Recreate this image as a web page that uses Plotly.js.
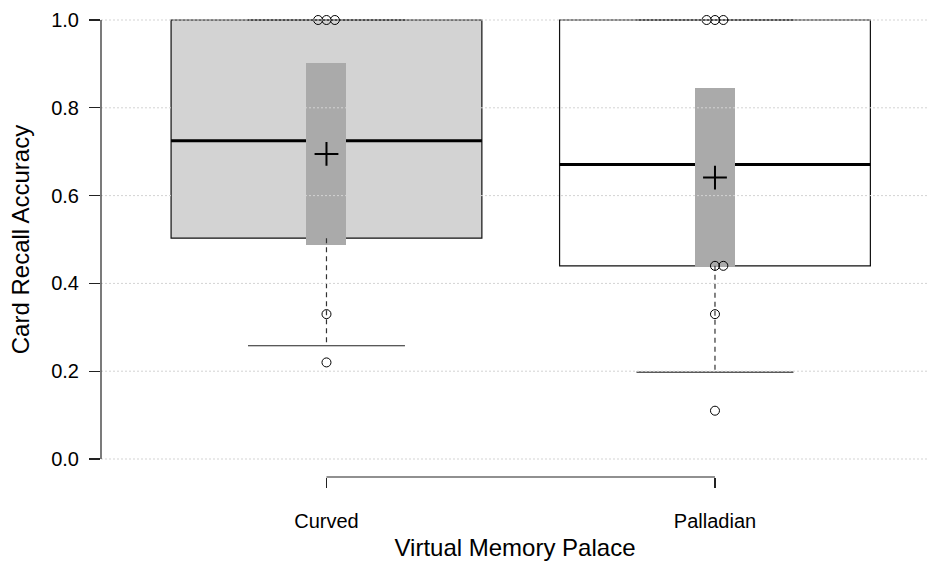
<!DOCTYPE html>
<html>
<head>
<meta charset="utf-8">
<script src="https://cdn.plot.ly/plotly-3.0.1.min.js"></script>
<style>html,body{margin:0;padding:0;background:#fff;}#chart{width:929px;height:561px;}</style>
</head>
<body>
<div id="chart"></div>
<script>
// ---- data ----
const categories = ['Curved', 'Palladian'];
const q1 = [0.503, 0.440];
const medians = [0.725, 0.671];
const q3 = [1.0, 1.0];
const lowerWhisker = [0.258, 0.198];
const upperWhisker = [1.0, 1.0];
const means = [0.695, 0.641];
const ciLow = [0.487, 0.437];
const ciHigh = [0.903, 0.846];
const curvedPoints = [1.0, 1.0, 1.0, 0.33, 0.22];
const palladianPoints = [1.0, 1.0, 1.0, 0.44, 0.44, 0.33, 0.11];
const yTicks = [0, 0.2, 0.4, 0.6, 0.8, 1.0];

// ---- styling ----
const boxFills = ['#d3d3d3', '#ffffff'];
const FONT = 'Liberation Sans, Arial, Helvetica, sans-serif';
const xPos = categories.map((c, i) => i);
const boxHalf = 0.40, capHalf = 0.202, ciWidth = 0.103, stackStep = 0.0215;

const shapes = [];
// boxes and medians (below traces)
xPos.forEach((x, i) => {
  shapes.push({type: 'rect', layer: 'below', xref: 'x', yref: 'y',
    x0: x - boxHalf, x1: x + boxHalf, y0: q1[i], y1: q3[i],
    fillcolor: boxFills[i], line: {color: '#111', width: 1.2}});
  shapes.push({type: 'line', layer: 'below', xref: 'x', yref: 'y',
    x0: x - boxHalf, x1: x + boxHalf, y0: medians[i], y1: medians[i],
    line: {color: '#000', width: 3}});
});
// whisker caps
xPos.forEach((x, i) => {
  [lowerWhisker[i], upperWhisker[i]].forEach(v => {
    shapes.push({type: 'line', layer: 'below', xref: 'x', yref: 'y',
      x0: x - capHalf, x1: x + capHalf, y0: v, y1: v,
      line: {color: '#222', width: 1.2}});
  });
});
// gridlines drawn on top
yTicks.forEach(v => {
  shapes.push({type: 'line', layer: 'above', xref: 'paper', yref: 'y',
    x0: 0, x1: 1, y0: v, y1: v,
    line: {color: '#d3d3d3', width: 1, dash: '2px,2px'}});
});
// y axis line (from first to last tick)
shapes.push({type: 'line', layer: 'above', xref: 'paper', yref: 'y',
  x0: 0, x1: 0, y0: yTicks[0], y1: yTicks[yTicks.length - 1],
  line: {color: '#222', width: 1.2}});
// x axis bracket (from first to last category)
shapes.push({type: 'line', layer: 'above', xref: 'x', yref: 'paper',
  x0: xPos[0], x1: xPos[xPos.length - 1], y0: 0, y1: 0,
  line: {color: '#222', width: 1.2}});

const traces = [];
// CI bars
traces.push({type: 'bar', x: xPos, base: ciLow, y: ciHigh.map((h, i) => h - ciLow[i]),
  width: ciWidth, marker: {color: '#aaaaaa', line: {width: 0}}, hoverinfo: 'skip'});
// dashed whiskers
xPos.forEach((x, i) => {
  traces.push({type: 'scatter', mode: 'lines', x: [x, x], y: [q1[i], lowerWhisker[i]],
    line: {color: '#333', width: 1.2, dash: '5px,4px'}, hoverinfo: 'skip'});
});
// stacked points
function stackX(vals, x0) {
  const out = [];
  const seen = {};
  const counts = {};
  vals.forEach(v => { counts[v] = (counts[v] || 0) + 1; });
  vals.forEach(v => {
    const k = seen[v] || 0; seen[v] = k + 1;
    const n = counts[v];
    out.push(x0 + (k - Math.floor((n - 1) / 2)) * stackStep);
  });
  return out;
}
[curvedPoints, palladianPoints].forEach((pts, i) => {
  traces.push({type: 'scatter', mode: 'markers', x: stackX(pts, xPos[i]), y: pts,
    marker: {symbol: 'circle-open', size: 9, color: '#000', line: {width: 1, color: '#000'}},
    hoverinfo: 'skip', cliponaxis: false});
});
// means
traces.push({type: 'scatter', mode: 'markers', x: xPos, y: means,
  marker: {symbol: 'cross-thin-open', size: 17, color: '#000', line: {width: 2, color: '#000'}},
  hoverinfo: 'skip'});

const layout = {
  width: 929, height: 561,
  margin: {l: 101, r: 0, t: 2, b: 84, pad: 0},
  paper_bgcolor: '#fff', plot_bgcolor: '#fff',
  showlegend: false,
  font: {family: FONT, color: '#000', size: 20},
  xaxis: {
    range: [-0.5804, 1.5509], tickvals: xPos, ticktext: categories,
    showgrid: false, zeroline: false, showline: false,
    ticks: 'outside', ticklen: 10, tickcolor: '#222', tickwidth: 1.2,
    tickfont: {family: FONT, size: 20}, ticklabelstandoff: 16,
    title: {text: 'Virtual Memory Palace', font: {family: FONT, size: 24}, standoff: 10},
    automargin: false, fixedrange: true
  },
  yaxis: {
    range: [-0.041, 1.041], tickvals: yTicks, tickformat: '.1f',
    showgrid: false, zeroline: false, showline: false,
    ticks: 'outside', ticklen: 11, tickcolor: '#222', tickwidth: 1.2,
    tickfont: {family: FONT, size: 20}, ticklabelstandoff: 6,
    title: {text: 'Card Recall Accuracy', font: {family: FONT, size: 24}, standoff: 14},
    automargin: false, fixedrange: true
  },
  shapes: shapes,
  bargap: 0
};
Plotly.newPlot('chart', traces, layout, {displayModeBar: false, staticPlot: true});
</script>
</body>
</html>
